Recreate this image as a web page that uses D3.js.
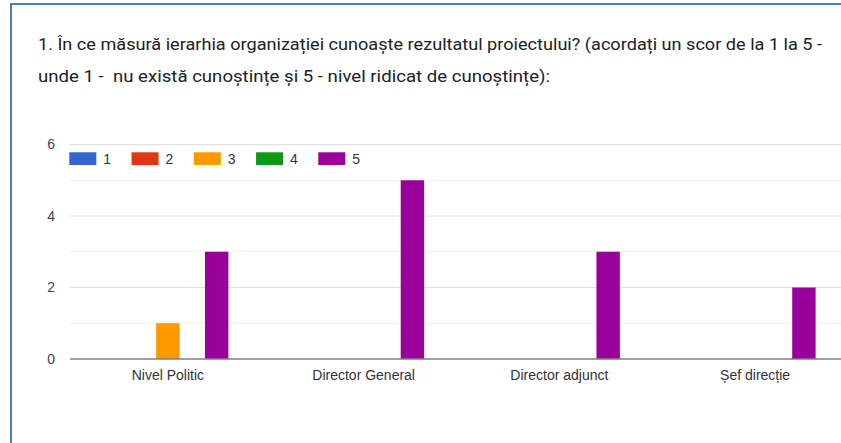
<!DOCTYPE html>
<html>
<head>
<meta charset="utf-8">
<script src="https://cdn.jsdelivr.net/npm/d3@7"></script>
<style>
  html, body { margin: 0; padding: 0; background: #fff; }
  svg { display: block; }
</style>
</head>
<body>
<div id="chart"></div>
<script>
// Question title (two lines)
const titleLines = [
  "1. În ce măsură ierarhia organizației cunoaște rezultatul proiectului? (acordați un scor de la 1 la 5 -",
  "unde 1 -  nu există cunoștințe și 5 - nivel ridicat de cunoștințe):"
];

// Respondent groups along the x axis
const categories = ["Nivel Politic", "Director General", "Director adjunct", "Șef direcție"];

// Score series (1..5) and their colours
const series = ["1", "2", "3", "4", "5"];
const seriesColors = ["#3366cc", "#dc3912", "#ff9900", "#109618", "#990099"];

// Number of answers per score, one row per category (order follows `series`)
const counts = [
  [0, 0, 1, 0, 3],
  [0, 0, 0, 0, 5],
  [0, 0, 0, 0, 3],
  [0, 0, 0, 0, 2]
];

// Y axis ticks
const yTicks = [0, 2, 4, 6];
const yMinorTicks = [1, 3, 5];

const W = 841, H = 443;
const plot = { left: 70, right: 853, top: 144.5, bottom: 359 };

const svg = d3.select("#chart").append("svg")
  .attr("width", W).attr("height", H)
  .attr("viewBox", `0 0 ${W} ${H}`);

svg.append("rect").attr("width", W).attr("height", H).attr("fill", "#fff");

// Card frame: left and top edges
svg.append("path")
  .attr("d", `M11,${H} L11,4 L${W},4`)
  .attr("fill", "none")
  .attr("stroke", "#4a7ebb")
  .attr("stroke-width", 2);

// Title
const titleWidths = [784, 512];
svg.selectAll("text.title").data(titleLines).join("text")
  .attr("class", "title")
  .attr("x", 38)
  .attr("y", (d, i) => 50 + i * 32)
  .attr("textLength", (d, i) => titleWidths[i])
  .attr("lengthAdjust", "spacingAndGlyphs")
  .style("white-space", "pre")
  .attr("font-family", "Roboto, 'Noto Sans', sans-serif")
  .attr("font-size", 17)
  .attr("fill", "#202124")
  .text(d => d);

// Scales
const y = d3.scaleLinear().domain([0, 6]).range([plot.bottom, plot.top]);
const x0 = d3.scaleBand().domain(categories)
  .range([plot.left, plot.right])
  .paddingInner(0.382).paddingOuter(0.191);
const x1 = d3.scaleBand().domain(series)
  .range([0, x0.bandwidth()])
  .paddingInner(0.04).paddingOuter(0);
const color = d3.scaleOrdinal().domain(series).range(seriesColors);

const clip = svg.append("clipPath").attr("id", "plotclip")
  .append("rect").attr("x", 0).attr("y", 0).attr("width", W).attr("height", H);

const g = svg.append("g").attr("clip-path", "url(#plotclip)");

// Minor gridlines
g.selectAll("line.minor").data(yMinorTicks).join("line")
  .attr("class", "minor")
  .attr("x1", plot.left).attr("x2", W)
  .attr("y1", d => y(d)).attr("y2", d => y(d))
  .attr("stroke", "#efefef").attr("stroke-width", 1);

// Major gridlines
g.selectAll("line.major").data(yTicks.filter(t => t !== 0)).join("line")
  .attr("class", "major")
  .attr("x1", plot.left).attr("x2", W)
  .attr("y1", d => y(d)).attr("y2", d => y(d))
  .attr("stroke", "#e0e0e0").attr("stroke-width", 1);

// Y axis labels via d3 axis
const yAxis = d3.axisLeft(y).tickValues(yTicks).tickSize(0).tickPadding(0).tickFormat(d3.format("d"));
const yg = svg.append("g").attr("transform", `translate(55,0)`).call(yAxis);
yg.select(".domain").remove();
yg.selectAll("text")
  .attr("font-family", "Arial, 'Liberation Sans', sans-serif")
  .attr("font-size", 14)
  .attr("fill", "#444");

// Bars
const groups = g.selectAll("g.cat").data(categories).join("g")
  .attr("class", "cat")
  .attr("transform", d => `translate(${x0(d)},0)`);

groups.selectAll("rect").data((d, i) => series.map((s, j) => ({ s, v: counts[i][j] })))
  .join("rect")
  .filter(d => d.v > 0)
  .attr("x", d => x1(d.s))
  .attr("width", x1.bandwidth())
  .attr("y", d => y(d.v))
  .attr("height", d => y(0) - y(d.v))
  .attr("fill", d => color(d.s));

// Baseline
g.append("line")
  .attr("x1", plot.left).attr("x2", W)
  .attr("y1", y(0)).attr("y2", y(0))
  .attr("stroke", "#808080").attr("stroke-width", 1.5);

// X axis labels via d3 axis
const xAxis = d3.axisBottom(x0).tickSize(0).tickPadding(0);
const xg = svg.append("g").attr("transform", `translate(0,${plot.bottom + 11})`).call(xAxis);
xg.select(".domain").remove();
xg.selectAll("text")
  .attr("font-family", "Arial, 'Liberation Sans', sans-serif")
  .attr("font-size", 14)
  .attr("fill", "#333");

// Legend
const legend = svg.append("g").attr("transform", "translate(69.3,152.3)");
const item = legend.selectAll("g").data(series).join("g")
  .attr("transform", (d, i) => `translate(${i * 62.25},0)`);
item.append("rect")
  .attr("width", 27).attr("height", 12.7)
  .attr("fill", d => color(d));
item.append("text")
  .attr("x", 34).attr("y", 11.5)
  .attr("font-family", "Arial, 'Liberation Sans', sans-serif")
  .attr("font-size", 14)
  .attr("fill", "#333")
  .text(d => d);
</script>
</body>
</html>
